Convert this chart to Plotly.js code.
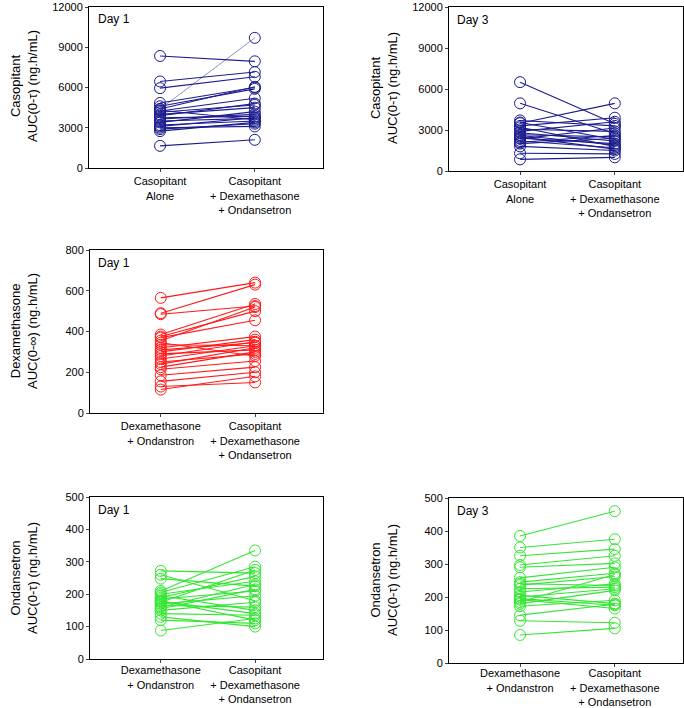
<!DOCTYPE html>
<html><head><meta charset="utf-8">
<script src="https://cdn.plot.ly/plotly-3.0.1.min.js"></script>
<style>html,body{margin:0;padding:0;background:#fff}#c{width:684px;height:708px}</style>
</head><body><div id="c"></div>
<script>
// Casopitant Day 1 (alone, + Dex + Ond)
const casD1Alone = [8350,6450,5950,4850,4600,4400,4250,4150,4000,3900,3750,3650,3500,3400,3200,3000,2900,2750,1650,4300,3100];
const casD1Combo = [7950,7150,6800,6000,5900,6050,5200,4700,4500,4800,3850,4000,3700,4200,3500,3100,3300,3400,2100,3600,3750];
const casD1ThinAlone = [4400];
const casD1ThinCombo = [9700];
// Casopitant Day 3
const casD3Alone = [6500,4950,3500,3700,3550,3300,3200,3050,2900,2800,2650,2500,2400,2350,2200,2100,2000,1800,1300,850,2600];
const casD3Combo = [3450,2750,4950,3300,2300,3900,1800,2900,3600,2200,2500,1600,2000,3150,1700,2600,2400,1500,1250,1000,1900];
// Dexamethasone Day 1
const dexD1Alone = [565,490,485,385,375,370,355,335,320,310,300,290,280,265,250,240,225,215,185,155,130,115,345];
const dexD1Combo = [640,630,525,535,500,455,520,330,375,345,360,310,350,330,290,320,300,255,225,200,150,180,280];
// Ondansetron Day 1
const ondD1Alone = [272,260,248,210,205,200,195,185,180,175,170,165,160,150,140,130,120,88,190,155,178];
const ondD1Combo = [265,180,225,335,285,240,150,210,120,275,195,160,230,175,135,100,110,125,255,215,140];
// Ondansetron Day 3
const ondD3Alone = [385,350,325,297,290,258,245,236,225,215,205,200,192,185,180,172,145,128,85,240,195];
const ondD3Combo = [460,375,345,325,302,290,272,262,230,240,180,225,165,268,220,190,178,122,105,235,175];

const casTicks = ["Casopitant<br>Alone","Casopitant<br>+ Dexamethasone<br>+ Ondansetron"];
const dexTicks = ["Dexamethasone<br>+ Ondanstron","Casopitant<br>+ Dexamethasone<br>+ Ondansetron"];
const casY = [0,3000,6000,9000,12000];
const dexY = [0,200,400,600,800];
const ondY = [0,100,200,300,400,500];

const W = 684, H = 708;
function pairs(a, b){
  const x=[], y=[];
  for(let i=0;i<a.length;i++){ x.push(0,1,null); y.push(a[i],b[i],null); }
  return {x,y};
}
function trace(a,b,color,ax,lw){
  const p = pairs(a,b);
  return {x:p.x,y:p.y,type:'scatter',mode:'lines+markers',xaxis:'x'+ax,yaxis:'y'+ax,
    line:{color:color,width:lw},marker:{symbol:'circle-open',size:11,color:color,line:{width:1,color:color}},
    connectgaps:false,hoverinfo:'skip',showlegend:false,cliponaxis:false};
}
const navy='#1c1c8f', red='#ff1a1a', green='#33e633';
const data = [
  trace(casD1Alone,casD1Combo,navy,'',1.1),
  trace(casD1ThinAlone,casD1ThinCombo,navy,'',0.5),
  trace(casD3Alone,casD3Combo,navy,'2',1.1),
  trace(dexD1Alone,dexD1Combo,red,'3',1.1),
  trace(ondD1Alone,ondD1Combo,green,'4',1.1),
  trace(ondD3Alone,ondD3Combo,green,'5',1.1)
];
const font = {family:'Liberation Sans, Arial, sans-serif', size:11, color:'#000'};
function xax(l,r,ticks,anchor,so){
  return {domain:[l/W,r/W],range:[-0.75,1.72],tickvals:[0,1],ticktext:ticks,ticks:'outside',ticklen:3,
    showgrid:false,zeroline:false,showline:true,linecolor:'#000',linewidth:1,mirror:true,anchor:anchor,
    tickfont:font,fixedrange:true,ticklabelstandoff:so||0,ticklabeloverflow:'allow'};
}
function yax(t,b,vals,anchor){
  return {domain:[1-b/H,1-t/H],range:[0,vals[vals.length-1]],tickvals:vals,ticktext:vals.map(String),
    ticks:'outside',ticklen:3,showgrid:false,zeroline:false,ticklabeloverflow:'allow',
    showline:true,linecolor:'#000',linewidth:1,mirror:true,anchor:anchor,tickfont:font,fixedrange:true};
}
function ytitle(l1,l2,xc,yc){
  return {text:l1+'<br>'+l2,x:xc/W,y:1-yc/H,xref:'paper',yref:'paper',showarrow:false,textangle:-90,
    font:{family:'Liberation Sans, Arial, sans-serif',size:13,color:'#000'},xanchor:'center',yanchor:'middle'};
}
function day(t,x,y){
  return {text:t,x:x/W,y:1-y/H,xref:'paper',yref:'paper',showarrow:false,xanchor:'left',yanchor:'middle',
    font:{family:'Liberation Sans, Arial, sans-serif',size:12,color:'#000'}};
}
const layout = {
  width:W,height:H,margin:{l:0,r:0,t:0,b:0},paper_bgcolor:'#fff',plot_bgcolor:'#fff',font:font,
  xaxis: xax(89,323,casTicks,'y'),   yaxis: yax(7,168,casY,'x'),
  xaxis2:xax(449,683,casTicks,'y2'), yaxis2:yax(7,171,casY,'x2'),
  xaxis3:xax(90,323,dexTicks,'y3'),  yaxis3:yax(250,413,dexY,'x3'),
  xaxis4:xax(90,323,dexTicks,'y4',-2),  yaxis4:yax(497,659,ondY,'x4'),
  xaxis5:xax(449,683,dexTicks,'y5',-3), yaxis5:yax(498,663,ondY,'x5'),
  annotations:[
    ytitle('Casopitant','AUC(0-τ) (ng.h/mL)',24,86),
    ytitle('Casopitant','AUC(0-τ) (ng.h/mL)',384,88),
    ytitle('Dexamethasone','AUC(0-∞) (ng.h/mL)',24,331),
    ytitle('Ondansetron','AUC(0-τ) (ng.h/mL)',24,578),
    ytitle('Ondansetron','AUC(0-τ) (ng.h/mL)',384,580),
    day('Day 1',96,19), day('Day 3',455,20), day('Day 1',96,263), day('Day 1',96,510), day('Day 3',455,511)
  ]
};
Plotly.newPlot('c',data,layout,{staticPlot:true,displayModeBar:false});
</script></body></html>
